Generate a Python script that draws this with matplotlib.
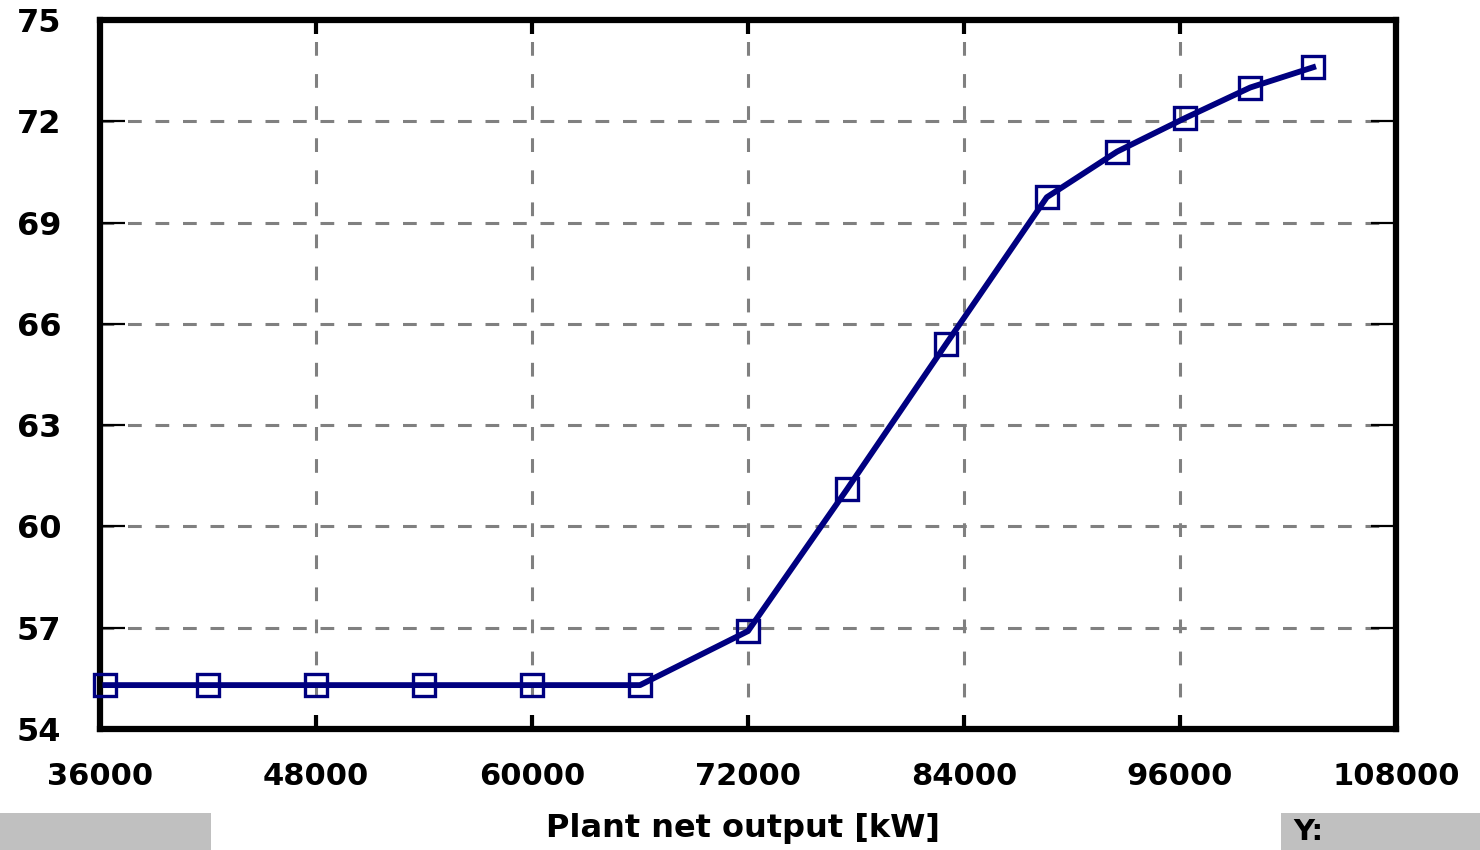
import matplotlib
matplotlib.use("Agg")
import matplotlib.pyplot as plt
from matplotlib.patches import Rectangle

# data
net_output = [36300, 42000, 48000, 54000, 60000, 66000, 72000,
              77500, 83000, 88600, 92500, 96300, 99900, 103400]
y_values = [55.3, 55.3, 55.3, 55.3, 55.3, 55.3, 56.9,
            61.1, 65.4, 69.75, 71.1, 72.1, 73.0, 73.6]
x_ticks = [36000, 48000, 60000, 72000, 84000, 96000, 108000]
y_ticks = [54, 57, 60, 63, 66, 69, 72, 75]
x_label = "Plant net output [kW]"

plt.rcParams['font.family'] = ['DejaVu Sans']
plt.rcParams['font.weight'] = 'bold'

fig = plt.figure(figsize=(14.8, 8.5), dpi=100)
ax = fig.add_axes([100/1480, 1 - 729/850, 1296/1480, 709/850])

# grid
for xv in x_ticks[1:-1]:
    ax.axvline(xv, color='#808080', lw=2.2, dashes=(4.5, 6), zorder=1)
for yv in y_ticks[1:-1]:
    ax.axhline(yv, color='#808080', lw=2.2, dashes=(4.5, 4.5), zorder=1)

ax.plot(net_output, y_values, color='#000080', lw=4.2, marker='s',
        markersize=15.5, markerfacecolor='none', markeredgecolor='#000080',
        markeredgewidth=2.4, zorder=3, clip_on=False)

ax.set_xlim(36000, 108000)
ax.set_ylim(54, 75)
ax.set_xticks(x_ticks)
ax.set_yticks(y_ticks)
ax.set_xticklabels([str(v) for v in x_ticks], fontsize=22, fontweight='bold')
ax.set_yticklabels([str(v) for v in y_ticks], fontsize=23, fontweight='bold')
ax.tick_params(axis='x', direction='in', length=10, width=3, top=True, pad=24)
ax.tick_params(axis='y', direction='in', length=18, width=1.6, right=True, pad=28)
for s in ax.spines.values():
    s.set_linewidth(4.5)

fig.text(743/1480, 1 - 828/850, x_label, ha='center', va='center',
         fontsize=23, fontweight='bold')

# status boxes at bottom
fig.patches.append(Rectangle((0, 0), 211/1480, 37/850, transform=fig.transFigure,
                             facecolor='#c0c0c0', edgecolor='none'))
fig.patches.append(Rectangle((1281/1480, 0), 199/1480, 37/850, transform=fig.transFigure,
                             facecolor='#c0c0c0', edgecolor='none'))
fig.text(1293/1480, 1 - 832/850, "Y:", ha='left', va='center',
         fontsize=21, fontweight='bold')

fig.savefig("out.png", dpi=100)
